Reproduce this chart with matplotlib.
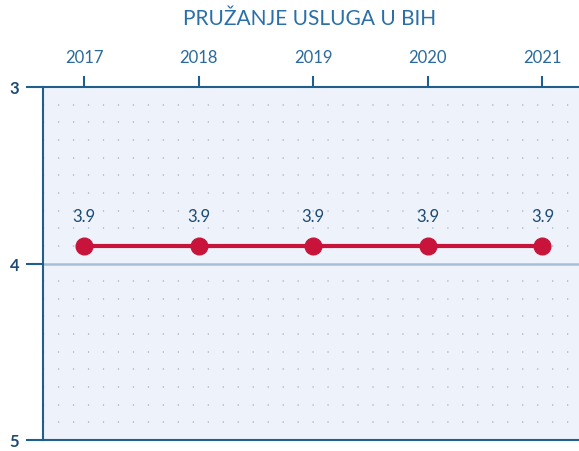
import matplotlib
matplotlib.use("Agg")
import matplotlib.pyplot as plt
import numpy as np

# podaci
godine = [2017, 2018, 2019, 2020, 2021]
vrijednosti = [3.9, 3.9, 3.9, 3.9, 3.9]
oznake = ["3.9", "3.9", "3.9", "3.9", "3.9"]
y_ticks = [3, 4, 5]

plt.rcParams['font.family'] = ['Lato', 'DejaVu Sans']

plava = "#1f5f8e"
tamno = "#1d4a72"
crvena = "#c8143a"

fig = plt.figure(figsize=(5.79, 4.52), dpi=100)
ax = fig.add_axes([43 / 579, 11 / 452, 1 - 43 / 579, (441 - 88) / 452])
ax.set_facecolor("#eef3fb")

ax.set_xlim(2016.64, 2021.32)
ax.set_ylim(5, 3)

# tockasta mreza
for y in np.arange(3.1, 5.0, 0.1):
    if abs(y - 4) < 1e-6:
        continue
    ax.axhline(y, color="#a9b8cc", lw=1.1, ls=(0, (0.8, 9.0)), zorder=1)
ax.axhline(4, color="#a4c0d6", lw=1.8, zorder=1)

ax.plot(godine, vrijednosti, color=crvena, lw=3, marker="o", markersize=12,
        markerfacecolor=crvena, markeredgecolor=crvena, zorder=3, clip_on=False)
for x, y, t in zip(godine, vrijednosti, oznake):
    ax.annotate(t, (x, y), xytext=(0, 16), textcoords="offset points",
                ha="center", va="bottom", fontsize=12, color=tamno)

ax.xaxis.tick_top()
ax.set_xticks(godine)
ax.set_xticklabels([str(g) for g in godine])
ax.set_yticks(y_ticks)
ax.set_yticklabels([str(v) for v in y_ticks])
ax.tick_params(axis="x", direction="out", length=8, width=1.5, color=plava,
               labelcolor="#2a6a9c", labelsize=12, pad=8)
ax.tick_params(axis="y", direction="out", length=12, width=1.5, color=plava,
               labelcolor=tamno, labelsize=12, pad=5)
for l in ax.get_yticklabels():
    l.set_fontweight("bold")

for s in ["left", "top", "bottom"]:
    ax.spines[s].set_color(plava)
    ax.spines[s].set_linewidth(1.5)
ax.spines["right"].set_visible(False)

fig.text(310 / 579, 1 - 19 / 452, "PRUŽANJE USLUGA U BIH", ha="center", va="center",
         fontsize=15, color="#2a6fa8")

fig.savefig("out.png", dpi=100)
